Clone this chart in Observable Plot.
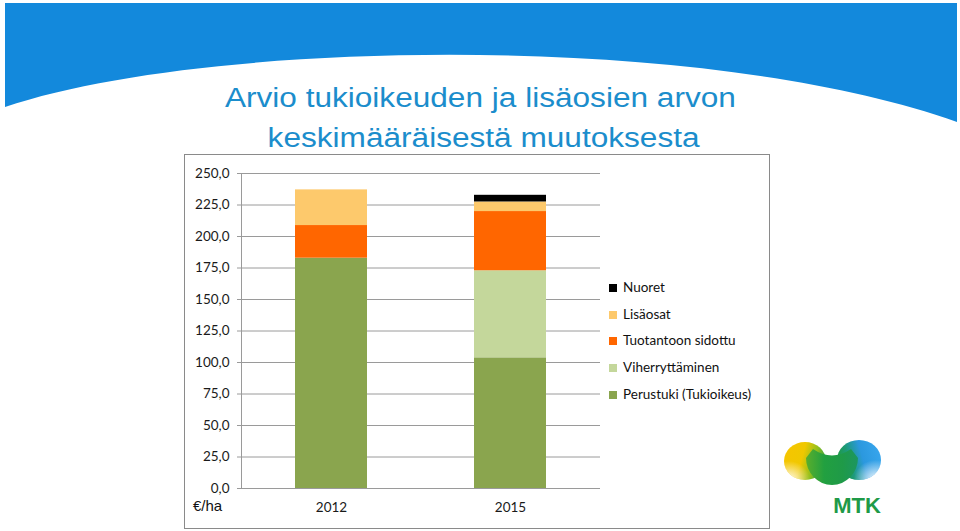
<!DOCTYPE html>
<html>
<head>
<meta charset="utf-8">
<script src="https://cdn.jsdelivr.net/npm/d3@7"></script>
<script src="https://cdn.jsdelivr.net/npm/@observablehq/plot@0.6"></script>
<style>
  html, body { margin: 0; padding: 0; background: #fff; }
  #page { position: relative; width: 960px; height: 531px; overflow: hidden; background: #fff; }
  #deco { position: absolute; left: 0; top: 0; }
  .title { position: absolute; left: 0; width: 960px; text-align: center; font-family: "Liberation Sans", Arial, sans-serif;
           font-size: 27px; color: #1b8dcc; white-space: nowrap; line-height: 1; }
  .title span { display: inline-block; transform: scaleX(1.17); transform-origin: center; }
  #box { position: absolute; left: 184px; top: 154px; width: 584px; height: 373px; border: 1.5px solid #8a8a8a; background: #fff; }
  #chart { position: absolute; left: 0; top: 0; }
  #unit { position: absolute; left: 8px; top: 342px; font-family: "Liberation Sans", Arial, sans-serif; font-size: 15px; color: #111; }
  #legend { position: absolute; left: 424px; top: 124px; font-family: Lato, sans-serif; font-size: 13.5px; color: #111; }
  .lg { position: absolute; left: 0; white-space: nowrap; height: 16px; line-height: 16px; }
  .sw { display: inline-block; width: 8px; height: 8px; margin-right: 6px; vertical-align: 0px; }
</style>
</head>
<body>
<div id="page">
  <svg id="deco" width="960" height="531">
    <defs>
      <linearGradient id="gy" x1="0" y1="0" x2="1" y2="0.25">
        <stop offset="0" stop-color="#f7c500"/>
        <stop offset="0.5" stop-color="#f0c800"/>
        <stop offset="0.8" stop-color="#8fbf1e"/>
        <stop offset="1" stop-color="#3ea43c"/>
      </linearGradient>
      <linearGradient id="gb" x1="1" y1="0" x2="0" y2="0.25">
        <stop offset="0" stop-color="#3aa8f0"/>
        <stop offset="0.5" stop-color="#2b98de"/>
        <stop offset="0.8" stop-color="#1d9a78"/>
        <stop offset="1" stop-color="#1f9a48"/>
      </linearGradient>
      <radialGradient id="fadeL" cx="0.12" cy="1" r="0.5">
        <stop offset="0" stop-color="#fff" stop-opacity="0.95"/>
        <stop offset="1" stop-color="#fff" stop-opacity="0"/>
      </radialGradient>
      <radialGradient id="fadeR" cx="0.88" cy="1" r="0.5">
        <stop offset="0" stop-color="#fff" stop-opacity="0.95"/>
        <stop offset="1" stop-color="#fff" stop-opacity="0"/>
      </radialGradient>
      <linearGradient id="gg" x1="0" y1="0" x2="1" y2="0">
        <stop offset="0" stop-color="#5aae2c"/>
        <stop offset="0.35" stop-color="#22a040"/>
        <stop offset="0.7" stop-color="#1f9a48"/>
        <stop offset="1" stop-color="#1c9660"/>
      </linearGradient>
    </defs>
    <path d="M5,3 H957 V122 C700,30 200,40 5,107 Z" fill="#1389dc"/>
    <ellipse cx="805" cy="461" rx="21" ry="19" fill="url(#gy)"/>
    <ellipse cx="805" cy="461" rx="21" ry="19" fill="url(#fadeL)"/>
    <ellipse cx="859" cy="460" rx="22" ry="20" fill="url(#gb)"/>
    <ellipse cx="859" cy="460" rx="22" ry="20" fill="url(#fadeR)"/>
    <path d="M813,449 Q832,462 851,449 L858,458 A 26 27 0 0 1 806,458 Z" fill="url(#gg)"/>
    <text x="857" y="513" text-anchor="middle" font-family="Liberation Sans, Arial, sans-serif" font-weight="bold" font-size="22" fill="#1f9a48">MTK</text>
  </svg>
  <div class="title" style="top:85px"><span>Arvio tukioikeuden ja lisäosien arvon</span></div>
  <div class="title" style="top:125px; left:4px"><span>keskimääräisestä muutoksesta</span></div>
  <div id="box">
    <div id="chart"></div>
    <div id="unit">€/ha</div>
    <div id="legend"></div>
  </div>
</div>
<script>
// ---- data ----
const years = ["2012", "2015"];
const series = ["Perustuki (Tukioikeus)", "Viherryttäminen", "Tuotantoon sidottu", "Lisäosat", "Nuoret"];
const values2012 = [182.8, 0, 25.9, 28.3, 0];
const values2015 = [103.7, 69.1, 47.0, 7.6, 5.3];
const colors = ["#8aa54e", "#c4d79b", "#ff6600", "#fdc96c", "#000000"];
const yTicks = [0, 25, 50, 75, 100, 125, 150, 175, 200, 225, 250];
const legendOrder = ["Nuoret", "Lisäosat", "Tuotantoon sidottu", "Viherryttäminen", "Perustuki (Tukioikeus)"];

const valuesByYear = {"2012": values2012, "2015": values2015};
const data = years.flatMap(year => series.map((s, i) => ({year, series: s, value: valuesByYear[year][i]})));

const fmt = d => d.toFixed(1).replace(".", ",");

const chart = Plot.plot({
  width: 584,
  height: 373,
  marginLeft: 56,
  marginRight: 169,
  marginTop: 18,
  marginBottom: 40,
  style: {fontFamily: "Lato, sans-serif", fontSize: "13.5px", color: "#1a1a1a", background: "transparent"},
  x: {domain: years, paddingInner: 0.6, paddingOuter: 0.3, label: null},
  y: {domain: [0, 250], label: null},
  color: {domain: series, range: colors},
  marks: [
    Plot.gridY(yTicks, {stroke: "#9a9a9a", strokeOpacity: 1}),
    Plot.barY(data, {x: "year", y: "value", fill: "series"}),
    Plot.ruleY([0], {stroke: "#9a9a9a"}),
    Plot.frame({anchor: "left", stroke: "#9a9a9a"}),
    Plot.axisY(yTicks, {tickFormat: fmt, tickSize: 4, tickPadding: 8, stroke: "#9a9a9a", label: null}),
    Plot.axisX({tickSize: 0, tickPadding: 14, label: null})
  ]
});
document.getElementById("chart").appendChild(chart);

// legend built from the series arrays
const legend = document.getElementById("legend");
legendOrder.forEach((name, i) => {
  const row = document.createElement("div");
  row.className = "lg";
  row.style.top = (i * 26.7) + "px";
  const sw = document.createElement("span");
  sw.className = "sw";
  sw.style.background = colors[series.indexOf(name)];
  row.appendChild(sw);
  row.appendChild(document.createTextNode(name));
  legend.appendChild(row);
});
</script>
</body>
</html>
